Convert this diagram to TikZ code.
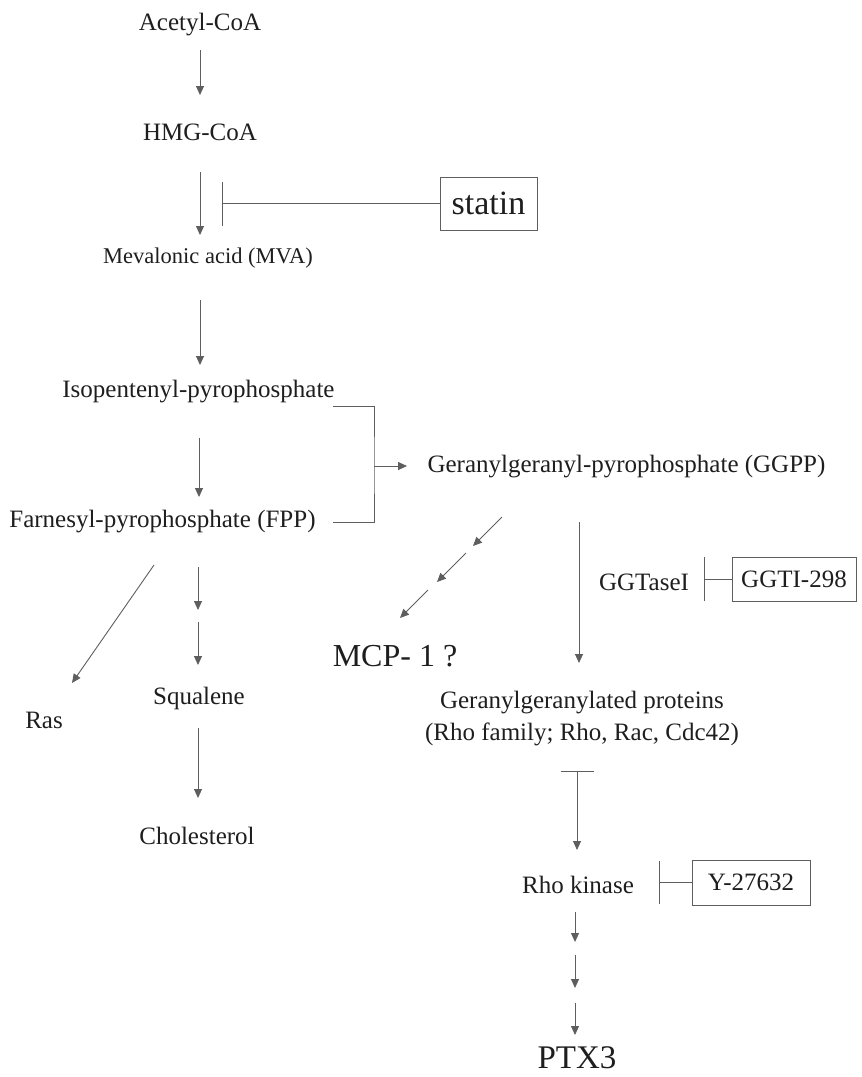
\documentclass[tikz,border=0pt]{standalone}
\usepackage{fontspec}
\setmainfont{Liberation Serif}
\usetikzlibrary{arrows.meta}
\definecolor{ln}{HTML}{5E5E5E}
\definecolor{tx}{HTML}{1E1E1E}
\begin{document}
\begin{tikzpicture}[x=1pt,y=-1pt,
  lbl/.style={inner sep=0pt, text=tx, font=\fontsize{25}{30}\selectfont},
  lblsm/.style={inner sep=0pt, text=tx, font=\fontsize{22.5}{27}\selectfont},
  big/.style={inner sep=0pt, text=tx, font=\fontsize{32}{38}\selectfont},
  boxed/.style={draw=ln, line width=0.9pt, inner sep=0pt, text=tx, minimum width=#1},
  arr/.style={draw=ln, line width=0.9pt, -{Triangle[length=9pt,width=8pt]}},
  plain/.style={draw=ln, line width=0.9pt},
  inh/.style={draw=ln, line width=0.9pt, -{Bar[width=#1]}},
]
\useasboundingbox (0,0) rectangle (862,1077);

% nodes
\node[lbl] (acetyl) at (200,25) {Acetyl-CoA};
\node[lbl] (hmg) at (200,132) {HMG-CoA};
\node[lblsm] (mva) at (208,258) {Mevalonic acid (MVA)};
\node[boxed=97pt, minimum height=53pt, font=\fontsize{34}{40}\selectfont] (statin) at (488.5,203.5) {statin};
\node[lbl] (ipp) at (198.5,392) {Isopentenyl-pyrophosphate};
\node[lbl] (fpp) at (162.5,522) {Farnesyl-pyrophosphate (FPP)};
\node[lbl] (ggpp) at (626.5,467) {Geranylgeranyl-pyrophosphate (GGPP)};
\node[lbl] (ras) at (44,720) {Ras};
\node[lbl] (squalene) at (199,698) {Squalene};
\node[lbl] (chol) at (197,836) {Cholesterol};
\node[big] (mcp) at (395,656) {MCP- 1 ?};
\node[lbl] (ggtase) at (644,582) {GGTaseI};
\node[boxed=124pt, minimum height=44pt, font=\fontsize{25}{30}\selectfont] (ggti) at (794,579) {GGTI-298};
\node[lbl, align=center, font=\fontsize{25}{32}\selectfont] (prot) at (582,719) {Geranylgeranylated proteins\\(Rho family; Rho, Rac, Cdc42)};
\node[lbl] (rhok) at (578,885) {Rho kinase};
\node[boxed=118pt, minimum height=45pt, font=\fontsize{25}{30}\selectfont] (y27) at (751,882.5) {Y-27632};
\node[inner sep=0pt, text=tx, font=\fontsize{33}{40}\selectfont] (ptx3) at (577,1058) {PTX3};

% coordinates for free ends
\coordinate (sbar) at (222,203.5);
\coordinate (bk) at (374,466);
\coordinate (gbar) at (704,579);
\coordinate (ybar) at (659,882.5);

% main pathway
\draw[arr] ([shift={(0,25)}]acetyl.center) -- ([shift={(0,-37)}]hmg.center);
\draw[arr] ([shift={(0,40)}]hmg.center) -- ([shift={(-8,-23)}]mva.center);
\draw[inh=44pt] (statin.west) -- (sbar);
\draw[arr] ([shift={(-8,42)}]mva.center) -- ([shift={(1.5,-27)}]ipp.center);
\draw[arr] ([shift={(0.5,46)}]ipp.center) -- ([shift={(36.5,-25)}]fpp.center);

% bracket to GGPP
\draw[plain] ([shift={(134.5,14)}]ipp.center) -| (bk) |- ([shift={(170.5,0)}]fpp.center);
\draw[arr] (bk) -- ([shift={(-219.5,-1)}]ggpp.center);

% FPP branches
\draw[arr] ([shift={(-8.5,43)}]fpp.center) -- ([shift={(28,-37)}]ras.center);
\draw[arr] ([shift={(35.5,45)}]fpp.center) -- ([shift={(-1,-88)}]squalene.center);
\draw[arr] ([shift={(-1,-76)}]squalene.center) -- ([shift={(-1,-33)}]squalene.center);
\draw[arr] ([shift={(-1,30)}]squalene.center) -- ([shift={(1,-38)}]chol.center);

% GGPP to MCP-1 (broken arrow)
\draw[arr] ([shift={(-124.5,50)}]ggpp.center) -- ([shift={(78,-110)}]mcp.center);
\draw[arr] ([shift={(71,-103)}]mcp.center) -- ([shift={(42,-74)}]mcp.center);
\draw[arr] ([shift={(33,-66)}]mcp.center) -- ([shift={(5,-38)}]mcp.center);

% GGPP to proteins
\draw[arr] ([shift={(-47.5,55)}]ggpp.center) -- ([shift={(-3,-56)}]prot.center);
\draw[inh=44pt] (ggti.west) -- (gbar);

% proteins to Rho kinase
\draw[draw=ln, line width=0.9pt, {Bar[width=33pt]}-{Triangle[length=9pt,width=8pt]}] ([shift={(-5,52)}]prot.center) -- ([shift={(-1,-35)}]rhok.center);
\draw[inh=43pt] (y27.west) -- (ybar);

% Rho kinase to PTX3
\draw[arr] ([shift={(-3,27)}]rhok.center) -- ([shift={(-2,-116)}]ptx3.center);
\draw[arr] ([shift={(-2,-103)}]ptx3.center) -- ([shift={(-2,-70)}]ptx3.center);
\draw[arr] ([shift={(-2,-55)}]ptx3.center) -- ([shift={(-2,-23)}]ptx3.center);
\end{tikzpicture}
\end{document}
